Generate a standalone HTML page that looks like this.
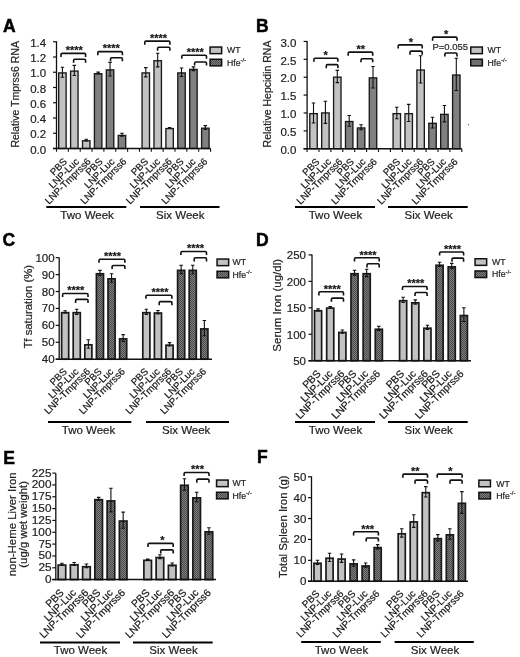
<!DOCTYPE html>
<html><head><meta charset="utf-8"><title>Figure</title>
<style>html,body{margin:0;padding:0;background:#fff;}svg{display:block;filter:grayscale(1);}text{font-family:"Liberation Sans", sans-serif;stroke:#222;stroke-width:0.2px;}</style>
</head><body>
<svg width="520" height="657" viewBox="0 0 520 657">
<defs><pattern id="chk" width="2" height="2" patternUnits="userSpaceOnUse"><rect width="2" height="2" fill="#7e7e7e"/><rect width="1" height="1" fill="#4a4a4a"/><rect x="1" y="1" width="1" height="1" fill="#4a4a4a"/></pattern></defs>
<rect width="520" height="657" fill="#fff"/>
<text x="3" y="32" font-size="17.5" font-weight="bold" fill="#000" style="stroke:#000;stroke-width:0.5px">A</text>
<rect x="58.69" y="72.92" width="7.45" height="75.58" fill="#c2c2c2" stroke="#1a1a1a" stroke-width="1.35"/>
<path d="M62.41 67.29V77.21M60.66 67.29H64.16M60.66 77.21H64.16" stroke="#111" stroke-width="1.1" fill="none"/>
<rect x="70.6" y="71.09" width="7.45" height="77.41" fill="#c2c2c2" stroke="#1a1a1a" stroke-width="1.35"/>
<path d="M74.33 65.39V75.45M72.58 65.39H76.08M72.58 75.45H76.08" stroke="#111" stroke-width="1.1" fill="none"/>
<rect x="82.51" y="140.79" width="7.45" height="7.71" fill="#c2c2c2" stroke="#1a1a1a" stroke-width="1.35"/>
<path d="M86.23 139.2V141.03M84.48 139.2H87.98M84.48 141.03H87.98" stroke="#111" stroke-width="1.1" fill="none"/>
<rect x="94.42" y="73.69" width="7.45" height="74.81" fill="#808080" stroke="#1a1a1a" stroke-width="1.35"/>
<path d="M98.15 72.1V73.93M96.4 72.1H99.9M96.4 73.93H99.9" stroke="#111" stroke-width="1.1" fill="none"/>
<rect x="106.33" y="69.88" width="7.45" height="78.62" fill="#808080" stroke="#1a1a1a" stroke-width="1.35"/>
<path d="M110.06 62.34V76.06M108.31 62.34H111.81M108.31 76.06H111.81" stroke="#111" stroke-width="1.1" fill="none"/>
<rect x="118.24" y="135.45" width="7.45" height="13.05" fill="#808080" stroke="#1a1a1a" stroke-width="1.35"/>
<path d="M121.97 133.25V136.3M120.22 133.25H123.72M120.22 136.3H123.72" stroke="#111" stroke-width="1.1" fill="none"/>
<rect x="142.06" y="72.92" width="7.45" height="75.58" fill="#c2c2c2" stroke="#1a1a1a" stroke-width="1.35"/>
<path d="M145.78 67.67V76.83M144.03 67.67H147.53M144.03 76.83H147.53" stroke="#111" stroke-width="1.1" fill="none"/>
<rect x="153.97" y="60.73" width="7.45" height="87.77" fill="#c2c2c2" stroke="#1a1a1a" stroke-width="1.35"/>
<path d="M157.69 53.19V66.91M155.94 53.19H159.44M155.94 66.91H159.44" stroke="#111" stroke-width="1.1" fill="none"/>
<rect x="165.88" y="128.59" width="7.45" height="19.91" fill="#c2c2c2" stroke="#1a1a1a" stroke-width="1.35"/>
<path d="M169.6 127.45V128.37M167.85 127.45H171.35M167.85 128.37H171.35" stroke="#111" stroke-width="1.1" fill="none"/>
<rect x="177.79" y="72.92" width="7.45" height="75.58" fill="#808080" stroke="#1a1a1a" stroke-width="1.35"/>
<path d="M181.52 68.06V76.44M179.77 68.06H183.27M179.77 76.44H183.27" stroke="#111" stroke-width="1.1" fill="none"/>
<rect x="189.7" y="69.42" width="7.45" height="79.08" fill="#808080" stroke="#1a1a1a" stroke-width="1.35"/>
<path d="M193.43 66.84V70.65M191.68 66.84H195.18M191.68 70.65H195.18" stroke="#111" stroke-width="1.1" fill="none"/>
<rect x="201.61" y="128.21" width="7.45" height="20.29" fill="#808080" stroke="#1a1a1a" stroke-width="1.35"/>
<path d="M205.34 125.62V129.44M203.59 125.62H207.09M203.59 129.44H207.09" stroke="#111" stroke-width="1.1" fill="none"/>
<path d="M56.5 41.15V149.1" stroke="#111" stroke-width="1.3" fill="none"/>
<path d="M53 148.5H210.6" stroke="#111" stroke-width="1.5" fill="none"/>
<path d="M53 148.5H56.5" stroke="#111" stroke-width="1.2"/>
<text x="46.2" y="153.55" font-size="11.5" text-anchor="end" fill="#222">0.0</text>
<path d="M53 133.25H56.5" stroke="#111" stroke-width="1.2"/>
<text x="46.2" y="138.3" font-size="11.5" text-anchor="end" fill="#222">0.2</text>
<path d="M53 118H56.5" stroke="#111" stroke-width="1.2"/>
<text x="46.2" y="123.05" font-size="11.5" text-anchor="end" fill="#222">0.4</text>
<path d="M53 102.75H56.5" stroke="#111" stroke-width="1.2"/>
<text x="46.2" y="107.8" font-size="11.5" text-anchor="end" fill="#222">0.6</text>
<path d="M53 87.5H56.5" stroke="#111" stroke-width="1.2"/>
<text x="46.2" y="92.55" font-size="11.5" text-anchor="end" fill="#222">0.8</text>
<path d="M53 72.25H56.5" stroke="#111" stroke-width="1.2"/>
<text x="46.2" y="77.3" font-size="11.5" text-anchor="end" fill="#222">1.0</text>
<path d="M53 57H56.5" stroke="#111" stroke-width="1.2"/>
<text x="46.2" y="62.05" font-size="11.5" text-anchor="end" fill="#222">1.2</text>
<path d="M53 41.75H56.5" stroke="#111" stroke-width="1.2"/>
<text x="46.2" y="46.8" font-size="11.5" text-anchor="end" fill="#222">1.4</text>
<path d="M56.5 148.5V151.7" stroke="#111" stroke-width="1.1"/>
<path d="M68.35 148.5V151.7" stroke="#111" stroke-width="1.1"/>
<path d="M80.2 148.5V151.7" stroke="#111" stroke-width="1.1"/>
<path d="M92.05 148.5V151.7" stroke="#111" stroke-width="1.1"/>
<path d="M103.9 148.5V151.7" stroke="#111" stroke-width="1.1"/>
<path d="M115.75 148.5V151.7" stroke="#111" stroke-width="1.1"/>
<path d="M127.6 148.5V151.7" stroke="#111" stroke-width="1.1"/>
<path d="M139.45 148.5V151.7" stroke="#111" stroke-width="1.1"/>
<path d="M151.3 148.5V151.7" stroke="#111" stroke-width="1.1"/>
<path d="M163.15 148.5V151.7" stroke="#111" stroke-width="1.1"/>
<path d="M175 148.5V151.7" stroke="#111" stroke-width="1.1"/>
<path d="M186.85 148.5V151.7" stroke="#111" stroke-width="1.1"/>
<path d="M198.7 148.5V151.7" stroke="#111" stroke-width="1.1"/>
<path d="M210.55 148.5V151.7" stroke="#111" stroke-width="1.1"/>
<text transform="translate(19.4 94.3) rotate(-90)" font-size="10.5" text-anchor="middle" fill="#222">Relative Tmprss6 RNA</text>
<path d="M61 57V54.6Q61 53.4 62.2 53.4H84.4Q85.6 53.4 85.6 54.6V57" stroke="#111" stroke-width="1.6" fill="none"/>
<path d="M73.6 62.8V60.4Q73.6 59.2 74.8 59.2H84.4Q85.6 59.2 85.6 60.4V62.8" stroke="#111" stroke-width="1.6" fill="none"/>
<text x="74.25" y="54.25" font-size="11" font-weight="bold" text-anchor="middle" fill="#111">****</text>
<path d="M97.8 55.2V52.8Q97.8 51.6 99 51.6H121.2Q122.4 51.6 122.4 52.8V55.2" stroke="#111" stroke-width="1.6" fill="none"/>
<path d="M110.5 61.3V58.9Q110.5 57.7 111.7 57.7H121.2Q122.4 57.7 122.4 58.9V61.3" stroke="#111" stroke-width="1.6" fill="none"/>
<text x="111.25" y="52.45" font-size="11" font-weight="bold" text-anchor="middle" fill="#111">****</text>
<path d="M144.8 44.7V42.3Q144.8 41.1 146 41.1H168.7Q169.9 41.1 169.9 42.3V44.7" stroke="#111" stroke-width="1.6" fill="none"/>
<path d="M157.6 50.8V48.4Q157.6 47.2 158.8 47.2H168.7Q169.9 47.2 169.9 48.4V50.8" stroke="#111" stroke-width="1.6" fill="none"/>
<text x="158.5" y="41.95" font-size="11" font-weight="bold" text-anchor="middle" fill="#111">****</text>
<path d="M181.8 58.8V56.4Q181.8 55.2 183 55.2H205.3Q206.5 55.2 206.5 56.4V58.8" stroke="#111" stroke-width="1.6" fill="none"/>
<path d="M194.6 65.6V63.2Q194.6 62 195.8 62H205.3Q206.5 62 206.5 63.2V65.6" stroke="#111" stroke-width="1.6" fill="none"/>
<text x="195.2" y="56.05" font-size="11" font-weight="bold" text-anchor="middle" fill="#111">****</text>
<text transform="translate(67.72 162.2) rotate(-45)" font-size="9.75" text-anchor="end" fill="#111">PBS</text>
<text transform="translate(79.58 162.2) rotate(-45)" font-size="9.75" text-anchor="end" fill="#111">LNP-Luc</text>
<text transform="translate(91.42 162.2) rotate(-45)" font-size="9.75" text-anchor="end" fill="#111">LNP-Tmprss6</text>
<text transform="translate(103.27 162.2) rotate(-45)" font-size="9.75" text-anchor="end" fill="#111">PBS</text>
<text transform="translate(115.12 162.2) rotate(-45)" font-size="9.75" text-anchor="end" fill="#111">LNP-Luc</text>
<text transform="translate(126.97 162.2) rotate(-45)" font-size="9.75" text-anchor="end" fill="#111">LNP-Tmprss6</text>
<text transform="translate(148.78 162.2) rotate(-45)" font-size="9.75" text-anchor="end" fill="#111">PBS</text>
<text transform="translate(160.62 162.2) rotate(-45)" font-size="9.75" text-anchor="end" fill="#111">LNP-Luc</text>
<text transform="translate(172.47 162.2) rotate(-45)" font-size="9.75" text-anchor="end" fill="#111">LNP-Tmprss6</text>
<text transform="translate(184.33 162.2) rotate(-45)" font-size="9.75" text-anchor="end" fill="#111">PBS</text>
<text transform="translate(196.18 162.2) rotate(-45)" font-size="9.75" text-anchor="end" fill="#111">LNP-Luc</text>
<text transform="translate(208.03 162.2) rotate(-45)" font-size="9.75" text-anchor="end" fill="#111">LNP-Tmprss6</text>
<path d="M46.3 207H126.3" stroke="#000" stroke-width="2"/>
<text x="87.1" y="218.8" font-size="11.5" text-anchor="middle" fill="#222">Two Week</text>
<path d="M140 207H219.5" stroke="#000" stroke-width="2"/>
<text x="180.25" y="218.8" font-size="11.5" text-anchor="middle" fill="#222">Six Week</text>
<rect x="210.05" y="47.05" width="11.6" height="6.6" fill="#c2c2c2" stroke="#111" stroke-width="1.5"/>
<rect x="210.05" y="59.25" width="11.6" height="6.6" fill="url(#chk)" stroke="#111" stroke-width="1.5"/>
<text x="227" y="53.4" font-size="8.7" fill="#222">WT</text>
<text x="227" y="65.6" font-size="8.7" fill="#222">Hfe<tspan font-size="6" dy="-3.8">-/-</tspan></text>
<text x="256.1" y="32.2" font-size="17.5" font-weight="bold" fill="#000" style="stroke:#000;stroke-width:0.5px">B</text>
<rect x="309.78" y="113.65" width="7.45" height="35.1" fill="#c2c2c2" stroke="#1a1a1a" stroke-width="1.35"/>
<path d="M313.5 102.96V123M311.75 102.96H315.25M311.75 123H315.25" stroke="#111" stroke-width="1.1" fill="none"/>
<rect x="321.68" y="112.94" width="7.45" height="35.81" fill="#c2c2c2" stroke="#1a1a1a" stroke-width="1.35"/>
<path d="M325.4 101.18V123.35M323.65 101.18H327.15M323.65 123.35H327.15" stroke="#111" stroke-width="1.1" fill="none"/>
<rect x="333.58" y="77.17" width="7.45" height="71.58" fill="#c2c2c2" stroke="#1a1a1a" stroke-width="1.35"/>
<path d="M337.3 70.41V82.58M335.55 70.41H339.05M335.55 82.58H339.05" stroke="#111" stroke-width="1.1" fill="none"/>
<rect x="345.48" y="121.52" width="7.45" height="27.23" fill="#808080" stroke="#1a1a1a" stroke-width="1.35"/>
<path d="M349.2 115.48V126.21M347.45 115.48H350.95M347.45 126.21H350.95" stroke="#111" stroke-width="1.1" fill="none"/>
<rect x="357.38" y="127.96" width="7.45" height="20.79" fill="#808080" stroke="#1a1a1a" stroke-width="1.35"/>
<path d="M361.1 124.78V129.79M359.35 124.78H362.85M359.35 129.79H362.85" stroke="#111" stroke-width="1.1" fill="none"/>
<rect x="369.28" y="77.88" width="7.45" height="70.87" fill="#808080" stroke="#1a1a1a" stroke-width="1.35"/>
<path d="M373 66.48V87.94M371.25 66.48H374.75M371.25 87.94H374.75" stroke="#111" stroke-width="1.1" fill="none"/>
<rect x="393.08" y="113.65" width="7.45" height="35.1" fill="#c2c2c2" stroke="#1a1a1a" stroke-width="1.35"/>
<path d="M396.8 107.26V118.7M395.05 107.26H398.55M395.05 118.7H398.55" stroke="#111" stroke-width="1.1" fill="none"/>
<rect x="404.98" y="113.65" width="7.45" height="35.1" fill="#c2c2c2" stroke="#1a1a1a" stroke-width="1.35"/>
<path d="M408.7 104.4V121.56M406.95 104.4H410.45M406.95 121.56H410.45" stroke="#111" stroke-width="1.1" fill="none"/>
<rect x="416.88" y="70.02" width="7.45" height="78.73" fill="#c2c2c2" stroke="#1a1a1a" stroke-width="1.35"/>
<path d="M420.6 55.75V82.93M418.85 55.75H422.35M418.85 82.93H422.35" stroke="#111" stroke-width="1.1" fill="none"/>
<rect x="428.78" y="123.31" width="7.45" height="25.44" fill="#808080" stroke="#1a1a1a" stroke-width="1.35"/>
<path d="M432.5 117.27V128M430.75 117.27H434.25M430.75 128H434.25" stroke="#111" stroke-width="1.1" fill="none"/>
<rect x="440.68" y="114.37" width="7.45" height="34.38" fill="#808080" stroke="#1a1a1a" stroke-width="1.35"/>
<path d="M444.4 105.47V121.92M442.65 105.47H446.15M442.65 121.92H446.15" stroke="#111" stroke-width="1.1" fill="none"/>
<rect x="452.58" y="75.02" width="7.45" height="73.73" fill="#808080" stroke="#1a1a1a" stroke-width="1.35"/>
<path d="M456.3 58.25V90.44M454.55 58.25H458.05M454.55 90.44H458.05" stroke="#111" stroke-width="1.1" fill="none"/>
<path d="M307.1 40.9V149.35" stroke="#111" stroke-width="1.3" fill="none"/>
<path d="M303.6 148.75H461.8" stroke="#111" stroke-width="1.5" fill="none"/>
<path d="M303.6 148.75H307.1" stroke="#111" stroke-width="1.2"/>
<text x="296.4" y="153.95" font-size="11.5" text-anchor="end" fill="#222">0.0</text>
<path d="M303.6 130.87H307.1" stroke="#111" stroke-width="1.2"/>
<text x="296.4" y="136.06" font-size="11.5" text-anchor="end" fill="#222">0.5</text>
<path d="M303.6 112.98H307.1" stroke="#111" stroke-width="1.2"/>
<text x="296.4" y="118.18" font-size="11.5" text-anchor="end" fill="#222">1.0</text>
<path d="M303.6 95.09H307.1" stroke="#111" stroke-width="1.2"/>
<text x="296.4" y="100.3" font-size="11.5" text-anchor="end" fill="#222">1.5</text>
<path d="M303.6 77.21H307.1" stroke="#111" stroke-width="1.2"/>
<text x="296.4" y="82.41" font-size="11.5" text-anchor="end" fill="#222">2.0</text>
<path d="M303.6 59.32H307.1" stroke="#111" stroke-width="1.2"/>
<text x="296.4" y="64.52" font-size="11.5" text-anchor="end" fill="#222">2.5</text>
<path d="M303.6 41.44H307.1" stroke="#111" stroke-width="1.2"/>
<text x="296.4" y="46.64" font-size="11.5" text-anchor="end" fill="#222">3.0</text>
<path d="M307.1 148.75V151.95" stroke="#111" stroke-width="1.1"/>
<path d="M319 148.75V151.95" stroke="#111" stroke-width="1.1"/>
<path d="M330.9 148.75V151.95" stroke="#111" stroke-width="1.1"/>
<path d="M342.8 148.75V151.95" stroke="#111" stroke-width="1.1"/>
<path d="M354.7 148.75V151.95" stroke="#111" stroke-width="1.1"/>
<path d="M366.6 148.75V151.95" stroke="#111" stroke-width="1.1"/>
<path d="M378.5 148.75V151.95" stroke="#111" stroke-width="1.1"/>
<path d="M390.4 148.75V151.95" stroke="#111" stroke-width="1.1"/>
<path d="M402.3 148.75V151.95" stroke="#111" stroke-width="1.1"/>
<path d="M414.2 148.75V151.95" stroke="#111" stroke-width="1.1"/>
<path d="M426.1 148.75V151.95" stroke="#111" stroke-width="1.1"/>
<path d="M438 148.75V151.95" stroke="#111" stroke-width="1.1"/>
<path d="M449.9 148.75V151.95" stroke="#111" stroke-width="1.1"/>
<path d="M461.8 148.75V151.95" stroke="#111" stroke-width="1.1"/>
<text transform="translate(271.3 94) rotate(-90)" font-size="10.5" text-anchor="middle" fill="#222">Relative Hepcidin RNA</text>
<path d="M313.9 61.8V59.4Q313.9 58.2 315.1 58.2H336.7Q337.9 58.2 337.9 59.4V61.8" stroke="#111" stroke-width="1.6" fill="none"/>
<path d="M326.3 68.2V65.8Q326.3 64.6 327.5 64.6H336.7Q337.9 64.6 337.9 65.8V68.2" stroke="#111" stroke-width="1.6" fill="none"/>
<text x="325.7" y="59.05" font-size="11" font-weight="bold" text-anchor="middle" fill="#111">*</text>
<path d="M348.2 55.7V53.3Q348.2 52.1 349.4 52.1H371.5Q372.7 52.1 372.7 53.3V55.7" stroke="#111" stroke-width="1.6" fill="none"/>
<path d="M361 62.3V59.9Q361 58.7 362.2 58.7H371.5Q372.7 58.7 372.7 59.9V62.3" stroke="#111" stroke-width="1.6" fill="none"/>
<text x="360.8" y="52.95" font-size="11" font-weight="bold" text-anchor="middle" fill="#111">**</text>
<path d="M398.2 48.5V46.1Q398.2 44.9 399.4 44.9H421Q422.2 44.9 422.2 46.1V48.5" stroke="#111" stroke-width="1.6" fill="none"/>
<path d="M410 54.7V52.3Q410 51.1 411.2 51.1H421Q422.2 51.1 422.2 52.3V54.7" stroke="#111" stroke-width="1.6" fill="none"/>
<text x="411" y="45.75" font-size="11" font-weight="bold" text-anchor="middle" fill="#111">*</text>
<path d="M432.6 40.7V38.3Q432.6 37.1 433.8 37.1H455.8Q457 37.1 457 38.3V40.7" stroke="#111" stroke-width="1.6" fill="none"/>
<path d="M444.9 56.6V54.2Q444.9 53 446.1 53H455.8Q457 53 457 54.2V56.6" stroke="#111" stroke-width="1.6" fill="none"/>
<text x="446.2" y="37.95" font-size="11" font-weight="bold" text-anchor="middle" fill="#111">*</text>
<text x="432.4" y="50.4" font-size="9.5" fill="#222">P=0.055</text>
<text transform="translate(320.1 162.35) rotate(-45)" font-size="9.75" text-anchor="end" fill="#111">PBS</text>
<text transform="translate(331.62 162.35) rotate(-45)" font-size="9.75" text-anchor="end" fill="#111">LNP-Luc</text>
<text transform="translate(343.14 162.35) rotate(-45)" font-size="9.75" text-anchor="end" fill="#111">LNP-Tmprss6</text>
<text transform="translate(354.66 162.35) rotate(-45)" font-size="9.75" text-anchor="end" fill="#111">PBS</text>
<text transform="translate(366.18 162.35) rotate(-45)" font-size="9.75" text-anchor="end" fill="#111">LNP-Luc</text>
<text transform="translate(377.7 162.35) rotate(-45)" font-size="9.75" text-anchor="end" fill="#111">LNP-Tmprss6</text>
<text transform="translate(400.74 162.35) rotate(-45)" font-size="9.75" text-anchor="end" fill="#111">PBS</text>
<text transform="translate(412.26 162.35) rotate(-45)" font-size="9.75" text-anchor="end" fill="#111">LNP-Luc</text>
<text transform="translate(423.78 162.35) rotate(-45)" font-size="9.75" text-anchor="end" fill="#111">LNP-Tmprss6</text>
<text transform="translate(435.3 162.35) rotate(-45)" font-size="9.75" text-anchor="end" fill="#111">PBS</text>
<text transform="translate(446.82 162.35) rotate(-45)" font-size="9.75" text-anchor="end" fill="#111">LNP-Luc</text>
<text transform="translate(458.34 162.35) rotate(-45)" font-size="9.75" text-anchor="end" fill="#111">LNP-Tmprss6</text>
<path d="M295 207.1H375" stroke="#000" stroke-width="2"/>
<text x="335.45" y="219" font-size="11.5" text-anchor="middle" fill="#222">Two Week</text>
<path d="M388 207.1H467.7" stroke="#000" stroke-width="2"/>
<text x="428.65" y="219" font-size="11.5" text-anchor="middle" fill="#222">Six Week</text>
<rect x="470.75" y="47.05" width="11.6" height="6.6" fill="#c2c2c2" stroke="#111" stroke-width="1.5"/>
<rect x="470.75" y="59.25" width="11.6" height="6.6" fill="#6e6e6e" stroke="#111" stroke-width="1.5"/>
<text x="487.5" y="53.4" font-size="8.7" fill="#222">WT</text>
<text x="487.5" y="65.6" font-size="8.7" fill="#222">Hfe<tspan font-size="6" dy="-3.8">-/-</tspan></text>
<text x="2.4" y="246.3" font-size="17.5" font-weight="bold" fill="#000" style="stroke:#000;stroke-width:0.5px">C</text>
<rect x="61.6" y="312.67" width="7.1" height="46.53" fill="#c2c2c2" stroke="#1a1a1a" stroke-width="1.7"/>
<path d="M65.15 310.81V312.84M63.4 310.81H66.9M63.4 312.84H66.9" stroke="#111" stroke-width="1.1" fill="none"/>
<rect x="73.2" y="312.67" width="7.1" height="46.53" fill="#c2c2c2" stroke="#1a1a1a" stroke-width="1.7"/>
<path d="M76.75 309.29V314.36M75 309.29H78.5M75 314.36H78.5" stroke="#111" stroke-width="1.1" fill="none"/>
<rect x="84.8" y="344.82" width="7.1" height="14.38" fill="#c2c2c2" stroke="#1a1a1a" stroke-width="1.7"/>
<path d="M88.35 339.74V348.2M86.6 339.74H90.1M86.6 348.2H90.1" stroke="#111" stroke-width="1.1" fill="none"/>
<rect x="96.4" y="273.76" width="7.1" height="85.44" fill="url(#chk)" stroke="#1a1a1a" stroke-width="1.7"/>
<path d="M99.95 270.37V275.45M98.2 270.37H101.7M98.2 275.45H101.7" stroke="#111" stroke-width="1.1" fill="none"/>
<rect x="108" y="278.83" width="7.1" height="80.37" fill="url(#chk)" stroke="#1a1a1a" stroke-width="1.7"/>
<path d="M111.55 273.75V282.21M109.8 273.75H113.3M109.8 282.21H113.3" stroke="#111" stroke-width="1.1" fill="none"/>
<rect x="119.6" y="338.9" width="7.1" height="20.3" fill="url(#chk)" stroke="#1a1a1a" stroke-width="1.7"/>
<path d="M123.15 334.67V341.43M121.4 334.67H124.9M121.4 341.43H124.9" stroke="#111" stroke-width="1.1" fill="none"/>
<rect x="142.8" y="312.67" width="7.1" height="46.53" fill="#c2c2c2" stroke="#1a1a1a" stroke-width="1.7"/>
<path d="M146.35 309.29V314.36M144.6 309.29H148.1M144.6 314.36H148.1" stroke="#111" stroke-width="1.1" fill="none"/>
<rect x="154.4" y="313.01" width="7.1" height="46.19" fill="#c2c2c2" stroke="#1a1a1a" stroke-width="1.7"/>
<path d="M157.95 310.47V313.85M156.2 310.47H159.7M156.2 313.85H159.7" stroke="#111" stroke-width="1.1" fill="none"/>
<rect x="166" y="345.16" width="7.1" height="14.04" fill="#c2c2c2" stroke="#1a1a1a" stroke-width="1.7"/>
<path d="M169.55 342.62V346M167.8 342.62H171.3M167.8 346H171.3" stroke="#111" stroke-width="1.1" fill="none"/>
<rect x="177.6" y="270.37" width="7.1" height="88.83" fill="url(#chk)" stroke="#1a1a1a" stroke-width="1.7"/>
<path d="M181.15 265.29V273.75M179.4 265.29H182.9M179.4 273.75H182.9" stroke="#111" stroke-width="1.1" fill="none"/>
<rect x="189.2" y="270.37" width="7.1" height="88.83" fill="url(#chk)" stroke="#1a1a1a" stroke-width="1.7"/>
<path d="M192.75 265.29V273.75M191 265.29H194.5M191 273.75H194.5" stroke="#111" stroke-width="1.1" fill="none"/>
<rect x="200.8" y="328.92" width="7.1" height="30.28" fill="url(#chk)" stroke="#1a1a1a" stroke-width="1.7"/>
<path d="M204.35 320.45V335.68M202.6 320.45H206.1M202.6 335.68H206.1" stroke="#111" stroke-width="1.1" fill="none"/>
<path d="M59.2 257.4V359.8" stroke="#111" stroke-width="1.3" fill="none"/>
<path d="M55.7 359.2H212" stroke="#111" stroke-width="1.5" fill="none"/>
<path d="M55.7 359.2H59.2" stroke="#111" stroke-width="1.2"/>
<text x="54.6" y="363.2" font-size="11.5" text-anchor="end" fill="#222">40</text>
<path d="M55.7 342.28H59.2" stroke="#111" stroke-width="1.2"/>
<text x="54.6" y="346.28" font-size="11.5" text-anchor="end" fill="#222">50</text>
<path d="M55.7 325.36H59.2" stroke="#111" stroke-width="1.2"/>
<text x="54.6" y="329.36" font-size="11.5" text-anchor="end" fill="#222">60</text>
<path d="M55.7 308.44H59.2" stroke="#111" stroke-width="1.2"/>
<text x="54.6" y="312.44" font-size="11.5" text-anchor="end" fill="#222">70</text>
<path d="M55.7 291.52H59.2" stroke="#111" stroke-width="1.2"/>
<text x="54.6" y="295.52" font-size="11.5" text-anchor="end" fill="#222">80</text>
<path d="M55.7 274.6H59.2" stroke="#111" stroke-width="1.2"/>
<text x="54.6" y="278.6" font-size="11.5" text-anchor="end" fill="#222">90</text>
<path d="M55.7 257.68H59.2" stroke="#111" stroke-width="1.2"/>
<text x="54.6" y="261.68" font-size="11.5" text-anchor="end" fill="#222">100</text>
<text transform="translate(32.3 306.8) rotate(-90)" font-size="11.3" text-anchor="middle" fill="#222">Tf saturation (%)</text>
<path d="M62.6 297.1V294.7Q62.6 293.5 63.8 293.5H86.8Q88 293.5 88 294.7V297.1" stroke="#111" stroke-width="1.6" fill="none"/>
<path d="M75.6 303V300.6Q75.6 299.4 76.8 299.4H86.8Q88 299.4 88 300.6V303" stroke="#111" stroke-width="1.6" fill="none"/>
<text x="75.75" y="294.35" font-size="11" font-weight="bold" text-anchor="middle" fill="#111">****</text>
<path d="M99 262.8V260.4Q99 259.2 100.2 259.2H123.7Q124.9 259.2 124.9 260.4V262.8" stroke="#111" stroke-width="1.6" fill="none"/>
<path d="M112.1 269.1V266.7Q112.1 265.5 113.3 265.5H123.7Q124.9 265.5 124.9 266.7V269.1" stroke="#111" stroke-width="1.6" fill="none"/>
<text x="112.6" y="260.05" font-size="11" font-weight="bold" text-anchor="middle" fill="#111">****</text>
<path d="M145.9 298.8V296.4Q145.9 295.2 147.1 295.2H170.7Q171.9 295.2 171.9 296.4V298.8" stroke="#111" stroke-width="1.6" fill="none"/>
<path d="M159.2 305.2V302.8Q159.2 301.6 160.4 301.6H170.7Q171.9 301.6 171.9 302.8V305.2" stroke="#111" stroke-width="1.6" fill="none"/>
<text x="160.1" y="296.05" font-size="11" font-weight="bold" text-anchor="middle" fill="#111">****</text>
<path d="M180.9 255.1V252.7Q180.9 251.5 182.1 251.5H205.3Q206.5 251.5 206.5 252.7V255.1" stroke="#111" stroke-width="1.6" fill="none"/>
<path d="M194.2 261.4V259Q194.2 257.8 195.4 257.8H205.3Q206.5 257.8 206.5 259V261.4" stroke="#111" stroke-width="1.6" fill="none"/>
<text x="195.5" y="252.35" font-size="11" font-weight="bold" text-anchor="middle" fill="#111">****</text>
<text transform="translate(67.55 372.2) rotate(-45)" font-size="9.75" text-anchor="end" fill="#111">PBS</text>
<text transform="translate(79.15 372.2) rotate(-45)" font-size="9.75" text-anchor="end" fill="#111">LNP-Luc</text>
<text transform="translate(90.75 372.2) rotate(-45)" font-size="9.75" text-anchor="end" fill="#111">LNP-Tmprss6</text>
<text transform="translate(102.35 372.2) rotate(-45)" font-size="9.75" text-anchor="end" fill="#111">PBS</text>
<text transform="translate(113.95 372.2) rotate(-45)" font-size="9.75" text-anchor="end" fill="#111">LNP-Luc</text>
<text transform="translate(125.55 372.2) rotate(-45)" font-size="9.75" text-anchor="end" fill="#111">LNP-Tmprss6</text>
<text transform="translate(148.75 372.2) rotate(-45)" font-size="9.75" text-anchor="end" fill="#111">PBS</text>
<text transform="translate(160.35 372.2) rotate(-45)" font-size="9.75" text-anchor="end" fill="#111">LNP-Luc</text>
<text transform="translate(171.95 372.2) rotate(-45)" font-size="9.75" text-anchor="end" fill="#111">LNP-Tmprss6</text>
<text transform="translate(183.55 372.2) rotate(-45)" font-size="9.75" text-anchor="end" fill="#111">PBS</text>
<text transform="translate(195.15 372.2) rotate(-45)" font-size="9.75" text-anchor="end" fill="#111">LNP-Luc</text>
<text transform="translate(206.75 372.2) rotate(-45)" font-size="9.75" text-anchor="end" fill="#111">LNP-Tmprss6</text>
<path d="M48 422H131.3" stroke="#000" stroke-width="2"/>
<text x="88.5" y="434" font-size="11.5" text-anchor="middle" fill="#222">Two Week</text>
<path d="M146 422H229" stroke="#000" stroke-width="2"/>
<text x="186.15" y="434" font-size="11.5" text-anchor="middle" fill="#222">Six Week</text>
<rect x="217.05" y="259.05" width="11.6" height="6.6" fill="#c2c2c2" stroke="#111" stroke-width="1.5"/>
<rect x="217.05" y="271.25" width="11.6" height="6.6" fill="url(#chk)" stroke="#111" stroke-width="1.5"/>
<text x="232.5" y="265.4" font-size="8.7" fill="#222">WT</text>
<text x="232.5" y="277.6" font-size="8.7" fill="#222">Hfe<tspan font-size="6" dy="-3.8">-/-</tspan></text>
<text x="256" y="246" font-size="17.5" font-weight="bold" fill="#000" style="stroke:#000;stroke-width:0.5px">D</text>
<rect x="314.53" y="310.77" width="7.1" height="49.93" fill="#c2c2c2" stroke="#1a1a1a" stroke-width="1.7"/>
<path d="M318.07 308.86V310.97M316.32 308.86H319.82M316.32 310.97H319.82" stroke="#111" stroke-width="1.1" fill="none"/>
<rect x="326.68" y="308.12" width="7.1" height="52.58" fill="#c2c2c2" stroke="#1a1a1a" stroke-width="1.7"/>
<path d="M330.23 306.48V308.06M328.48 306.48H331.98M328.48 308.06H331.98" stroke="#111" stroke-width="1.1" fill="none"/>
<rect x="338.83" y="332.45" width="7.1" height="28.25" fill="#c2c2c2" stroke="#1a1a1a" stroke-width="1.7"/>
<path d="M342.38 330.02V333.19M340.62 330.02H344.12M340.62 333.19H344.12" stroke="#111" stroke-width="1.1" fill="none"/>
<rect x="350.98" y="273.74" width="7.1" height="86.96" fill="url(#chk)" stroke="#1a1a1a" stroke-width="1.7"/>
<path d="M354.52 270.24V275.53M352.77 270.24H356.27M352.77 275.53H356.27" stroke="#111" stroke-width="1.1" fill="none"/>
<rect x="363.13" y="273.74" width="7.1" height="86.96" fill="url(#chk)" stroke="#1a1a1a" stroke-width="1.7"/>
<path d="M366.68 269.18V276.59M364.93 269.18H368.43M364.93 276.59H368.43" stroke="#111" stroke-width="1.1" fill="none"/>
<rect x="375.28" y="329.28" width="7.1" height="31.42" fill="url(#chk)" stroke="#1a1a1a" stroke-width="1.7"/>
<path d="M378.82 326.31V330.55M377.07 326.31H380.57M377.07 330.55H380.57" stroke="#111" stroke-width="1.1" fill="none"/>
<rect x="399.58" y="300.72" width="7.1" height="59.98" fill="#c2c2c2" stroke="#1a1a1a" stroke-width="1.7"/>
<path d="M403.12 297.22V302.51M401.38 297.22H404.88M401.38 302.51H404.88" stroke="#111" stroke-width="1.1" fill="none"/>
<rect x="411.73" y="302.83" width="7.1" height="57.87" fill="#c2c2c2" stroke="#1a1a1a" stroke-width="1.7"/>
<path d="M415.27 299.87V304.1M413.52 299.87H417.02M413.52 304.1H417.02" stroke="#111" stroke-width="1.1" fill="none"/>
<rect x="423.88" y="328.22" width="7.1" height="32.48" fill="#c2c2c2" stroke="#1a1a1a" stroke-width="1.7"/>
<path d="M427.43 325.26V329.49M425.68 325.26H429.18M425.68 329.49H429.18" stroke="#111" stroke-width="1.1" fill="none"/>
<rect x="436.03" y="265.27" width="7.1" height="95.43" fill="url(#chk)" stroke="#1a1a1a" stroke-width="1.7"/>
<path d="M439.57 262.31V266.54M437.82 262.31H441.32M437.82 266.54H441.32" stroke="#111" stroke-width="1.1" fill="none"/>
<rect x="448.18" y="266.86" width="7.1" height="93.84" fill="url(#chk)" stroke="#1a1a1a" stroke-width="1.7"/>
<path d="M451.73 263.36V268.65M449.98 263.36H453.48M449.98 268.65H453.48" stroke="#111" stroke-width="1.1" fill="none"/>
<rect x="460.33" y="315.53" width="7.1" height="45.17" fill="url(#chk)" stroke="#1a1a1a" stroke-width="1.7"/>
<path d="M463.88 307.8V321.55M462.12 307.8H465.62M462.12 321.55H465.62" stroke="#111" stroke-width="1.1" fill="none"/>
<path d="M312 254.4V361.3" stroke="#111" stroke-width="1.3" fill="none"/>
<path d="M308.5 360.7H471" stroke="#111" stroke-width="1.5" fill="none"/>
<path d="M308.5 360.7H312" stroke="#111" stroke-width="1.2"/>
<text x="306" y="364.95" font-size="11.5" text-anchor="end" fill="#222">50</text>
<path d="M308.5 334.25H312" stroke="#111" stroke-width="1.2"/>
<text x="306" y="338.5" font-size="11.5" text-anchor="end" fill="#222">100</text>
<path d="M308.5 307.8H312" stroke="#111" stroke-width="1.2"/>
<text x="306" y="312.05" font-size="11.5" text-anchor="end" fill="#222">150</text>
<path d="M308.5 281.35H312" stroke="#111" stroke-width="1.2"/>
<text x="306" y="285.6" font-size="11.5" text-anchor="end" fill="#222">200</text>
<path d="M308.5 254.9H312" stroke="#111" stroke-width="1.2"/>
<text x="306" y="259.15" font-size="11.5" text-anchor="end" fill="#222">250</text>
<text transform="translate(281.3 305.3) rotate(-90)" font-size="11.5" text-anchor="middle" fill="#222">Serum Iron (ug/dl)</text>
<path d="M318.9 295.4V293Q318.9 291.8 320.1 291.8H342.3Q343.5 291.8 343.5 293V295.4" stroke="#111" stroke-width="1.6" fill="none"/>
<path d="M331.4 301.7V299.3Q331.4 298.1 332.6 298.1H342.3Q343.5 298.1 343.5 299.3V301.7" stroke="#111" stroke-width="1.6" fill="none"/>
<text x="332.2" y="292.65" font-size="11" font-weight="bold" text-anchor="middle" fill="#111">****</text>
<path d="M354.5 261.4V259Q354.5 257.8 355.7 257.8H378Q379.2 257.8 379.2 259V261.4" stroke="#111" stroke-width="1.6" fill="none"/>
<path d="M367 267.4V265Q367 263.8 368.2 263.8H378Q379.2 263.8 379.2 265V267.4" stroke="#111" stroke-width="1.6" fill="none"/>
<text x="368" y="258.65" font-size="11" font-weight="bold" text-anchor="middle" fill="#111">****</text>
<path d="M402.5 290.1V287.7Q402.5 286.5 403.7 286.5H425.9Q427.1 286.5 427.1 287.7V290.1" stroke="#111" stroke-width="1.6" fill="none"/>
<path d="M415 296.1V293.7Q415 292.5 416.2 292.5H425.9Q427.1 292.5 427.1 293.7V296.1" stroke="#111" stroke-width="1.6" fill="none"/>
<text x="415.8" y="287.35" font-size="11" font-weight="bold" text-anchor="middle" fill="#111">****</text>
<path d="M439.6 255.6V253.2Q439.6 252 440.8 252H462.4Q463.6 252 463.6 253.2V255.6" stroke="#111" stroke-width="1.6" fill="none"/>
<path d="M452 261.7V259.3Q452 258.1 453.2 258.1H462.4Q463.6 258.1 463.6 259.3V261.7" stroke="#111" stroke-width="1.6" fill="none"/>
<text x="452.6" y="252.85" font-size="11" font-weight="bold" text-anchor="middle" fill="#111">****</text>
<text transform="translate(321.27 374.4) rotate(-45)" font-size="10.35" text-anchor="end" fill="#111">PBS</text>
<text transform="translate(333.2 374.4) rotate(-45)" font-size="10.35" text-anchor="end" fill="#111">LNP-Luc</text>
<text transform="translate(345.13 374.4) rotate(-45)" font-size="10.35" text-anchor="end" fill="#111">LNP-Tmprss6</text>
<text transform="translate(357.06 374.4) rotate(-45)" font-size="10.35" text-anchor="end" fill="#111">PBS</text>
<text transform="translate(369 374.4) rotate(-45)" font-size="10.35" text-anchor="end" fill="#111">LNP-Luc</text>
<text transform="translate(380.92 374.4) rotate(-45)" font-size="10.35" text-anchor="end" fill="#111">LNP-Tmprss6</text>
<text transform="translate(404.78 374.4) rotate(-45)" font-size="10.35" text-anchor="end" fill="#111">PBS</text>
<text transform="translate(416.71 374.4) rotate(-45)" font-size="10.35" text-anchor="end" fill="#111">LNP-Luc</text>
<text transform="translate(428.64 374.4) rotate(-45)" font-size="10.35" text-anchor="end" fill="#111">LNP-Tmprss6</text>
<text transform="translate(440.57 374.4) rotate(-45)" font-size="10.35" text-anchor="end" fill="#111">PBS</text>
<text transform="translate(452.5 374.4) rotate(-45)" font-size="10.35" text-anchor="end" fill="#111">LNP-Luc</text>
<text transform="translate(464.44 374.4) rotate(-45)" font-size="10.35" text-anchor="end" fill="#111">LNP-Tmprss6</text>
<path d="M295 421.9H375" stroke="#000" stroke-width="2"/>
<text x="335.5" y="433.8" font-size="11.5" text-anchor="middle" fill="#222">Two Week</text>
<path d="M388 421.9H467.7" stroke="#000" stroke-width="2"/>
<text x="428.65" y="433.8" font-size="11.5" text-anchor="middle" fill="#222">Six Week</text>
<rect x="475.05" y="258.75" width="11.6" height="6.6" fill="#c2c2c2" stroke="#111" stroke-width="1.5"/>
<rect x="475.05" y="270.95" width="11.6" height="6.6" fill="url(#chk)" stroke="#111" stroke-width="1.5"/>
<text x="492" y="265.1" font-size="8.7" fill="#222">WT</text>
<text x="492" y="277.3" font-size="8.7" fill="#222">Hfe<tspan font-size="6" dy="-3.8">-/-</tspan></text>
<text x="3.2" y="463.8" font-size="17.5" font-weight="bold" fill="#000" style="stroke:#000;stroke-width:0.5px">E</text>
<rect x="58.12" y="565.07" width="7.6" height="14.53" fill="#c2c2c2" stroke="#1a1a1a" stroke-width="1.7"/>
<path d="M61.92 563.27V565.16M60.17 563.27H63.67M60.17 565.16H63.67" stroke="#111" stroke-width="1.1" fill="none"/>
<rect x="70.37" y="564.83" width="7.6" height="14.77" fill="#c2c2c2" stroke="#1a1a1a" stroke-width="1.7"/>
<path d="M74.17 562.56V565.4M72.42 562.56H75.92M72.42 565.4H75.92" stroke="#111" stroke-width="1.1" fill="none"/>
<rect x="82.62" y="566.72" width="7.6" height="12.88" fill="#c2c2c2" stroke="#1a1a1a" stroke-width="1.7"/>
<path d="M86.42 563.98V567.77M84.67 563.98H88.17M84.67 567.77H88.17" stroke="#111" stroke-width="1.1" fill="none"/>
<rect x="94.87" y="499.66" width="7.6" height="79.94" fill="url(#chk)" stroke="#1a1a1a" stroke-width="1.7"/>
<path d="M98.67 497.39V500.23M96.92 497.39H100.42M96.92 500.23H100.42" stroke="#111" stroke-width="1.1" fill="none"/>
<rect x="107.12" y="500.94" width="7.6" height="78.66" fill="url(#chk)" stroke="#1a1a1a" stroke-width="1.7"/>
<path d="M110.92 488.25V511.92M109.17 488.25H112.67M109.17 511.92H112.67" stroke="#111" stroke-width="1.1" fill="none"/>
<rect x="119.37" y="521.05" width="7.6" height="58.55" fill="url(#chk)" stroke="#1a1a1a" stroke-width="1.7"/>
<path d="M123.17 512.15V528.25M121.42 512.15H124.92M121.42 528.25H124.92" stroke="#111" stroke-width="1.1" fill="none"/>
<rect x="143.88" y="560.33" width="7.6" height="19.27" fill="#c2c2c2" stroke="#1a1a1a" stroke-width="1.7"/>
<path d="M147.68 559.01V559.96M145.93 559.01H149.43M145.93 559.96H149.43" stroke="#111" stroke-width="1.1" fill="none"/>
<rect x="156.12" y="557.54" width="7.6" height="22.06" fill="#c2c2c2" stroke="#1a1a1a" stroke-width="1.7"/>
<path d="M159.93 554.8V558.59M158.18 554.8H161.68M158.18 558.59H161.68" stroke="#111" stroke-width="1.1" fill="none"/>
<rect x="168.38" y="565.3" width="7.6" height="14.3" fill="#c2c2c2" stroke="#1a1a1a" stroke-width="1.7"/>
<path d="M172.18 563.03V565.87M170.43 563.03H173.93M170.43 565.87H173.93" stroke="#111" stroke-width="1.1" fill="none"/>
<rect x="180.62" y="485.32" width="7.6" height="94.28" fill="url(#chk)" stroke="#1a1a1a" stroke-width="1.7"/>
<path d="M184.43 478.79V490.15M182.68 478.79H186.18M182.68 490.15H186.18" stroke="#111" stroke-width="1.1" fill="none"/>
<rect x="192.88" y="497.86" width="7.6" height="81.74" fill="url(#chk)" stroke="#1a1a1a" stroke-width="1.7"/>
<path d="M196.68 492.28V501.74M194.93 492.28H198.43M194.93 501.74H198.43" stroke="#111" stroke-width="1.1" fill="none"/>
<rect x="205.12" y="531.84" width="7.6" height="47.76" fill="url(#chk)" stroke="#1a1a1a" stroke-width="1.7"/>
<path d="M208.93 527.68V534.31M207.18 527.68H210.68M207.18 534.31H210.68" stroke="#111" stroke-width="1.1" fill="none"/>
<path d="M55.8 473.15V580.2" stroke="#111" stroke-width="1.3" fill="none"/>
<path d="M52.3 579.6H216" stroke="#111" stroke-width="1.5" fill="none"/>
<path d="M52.3 579.6H55.8" stroke="#111" stroke-width="1.2"/>
<text x="51.5" y="583.1" font-size="11.8" text-anchor="end" fill="#222">0</text>
<path d="M52.3 567.77H55.8" stroke="#111" stroke-width="1.2"/>
<text x="51.5" y="571.27" font-size="11.8" text-anchor="end" fill="#222">25</text>
<path d="M52.3 555.94H55.8" stroke="#111" stroke-width="1.2"/>
<text x="51.5" y="559.44" font-size="11.8" text-anchor="end" fill="#222">50</text>
<path d="M52.3 544.1H55.8" stroke="#111" stroke-width="1.2"/>
<text x="51.5" y="547.6" font-size="11.8" text-anchor="end" fill="#222">75</text>
<path d="M52.3 532.27H55.8" stroke="#111" stroke-width="1.2"/>
<text x="51.5" y="535.77" font-size="11.8" text-anchor="end" fill="#222">100</text>
<path d="M52.3 520.44H55.8" stroke="#111" stroke-width="1.2"/>
<text x="51.5" y="523.94" font-size="11.8" text-anchor="end" fill="#222">125</text>
<path d="M52.3 508.61H55.8" stroke="#111" stroke-width="1.2"/>
<text x="51.5" y="512.11" font-size="11.8" text-anchor="end" fill="#222">150</text>
<path d="M52.3 496.77H55.8" stroke="#111" stroke-width="1.2"/>
<text x="51.5" y="500.27" font-size="11.8" text-anchor="end" fill="#222">175</text>
<path d="M52.3 484.94H55.8" stroke="#111" stroke-width="1.2"/>
<text x="51.5" y="488.44" font-size="11.8" text-anchor="end" fill="#222">200</text>
<path d="M52.3 473.11H55.8" stroke="#111" stroke-width="1.2"/>
<text x="51.5" y="476.61" font-size="11.8" text-anchor="end" fill="#222">225</text>
<text transform="translate(16.4 524.3) rotate(-90)" font-size="11.4" text-anchor="middle" fill="#222">non-Heme Liver Iron</text>
<text transform="translate(27.3 524.3) rotate(-90)" font-size="11.4" text-anchor="middle" fill="#222">(ug/g wet weight)</text>
<path d="M148 547V544.6Q148 543.4 149.2 543.4H172Q173.2 543.4 173.2 544.6V547" stroke="#111" stroke-width="1.6" fill="none"/>
<path d="M160.7 553.5V551.1Q160.7 549.9 161.9 549.9H172Q173.2 549.9 173.2 551.1V553.5" stroke="#111" stroke-width="1.6" fill="none"/>
<text x="162.5" y="544.25" font-size="11" font-weight="bold" text-anchor="middle" fill="#111">*</text>
<path d="M184.1 476.1V473.7Q184.1 472.5 185.3 472.5H207.8Q209 472.5 209 473.7V476.1" stroke="#111" stroke-width="1.6" fill="none"/>
<path d="M196.8 482.7V480.3Q196.8 479.1 198 479.1H207.8Q209 479.1 209 480.3V482.7" stroke="#111" stroke-width="1.6" fill="none"/>
<text x="197.5" y="473.35" font-size="11" font-weight="bold" text-anchor="middle" fill="#111">***</text>
<text transform="translate(64.52 593.4) rotate(-45)" font-size="10.4" text-anchor="end" fill="#111">PBS</text>
<text transform="translate(76.77 593.4) rotate(-45)" font-size="10.4" text-anchor="end" fill="#111">LNP-Luc</text>
<text transform="translate(89.02 593.4) rotate(-45)" font-size="10.4" text-anchor="end" fill="#111">LNP-Tmprss6</text>
<text transform="translate(101.27 593.4) rotate(-45)" font-size="10.4" text-anchor="end" fill="#111">PBS</text>
<text transform="translate(113.52 593.4) rotate(-45)" font-size="10.4" text-anchor="end" fill="#111">LNP-Luc</text>
<text transform="translate(125.77 593.4) rotate(-45)" font-size="10.4" text-anchor="end" fill="#111">LNP-Tmprss6</text>
<text transform="translate(150.28 593.4) rotate(-45)" font-size="10.4" text-anchor="end" fill="#111">PBS</text>
<text transform="translate(162.53 593.4) rotate(-45)" font-size="10.4" text-anchor="end" fill="#111">LNP-Luc</text>
<text transform="translate(174.78 593.4) rotate(-45)" font-size="10.4" text-anchor="end" fill="#111">LNP-Tmprss6</text>
<text transform="translate(187.03 593.4) rotate(-45)" font-size="10.4" text-anchor="end" fill="#111">PBS</text>
<text transform="translate(199.28 593.4) rotate(-45)" font-size="10.4" text-anchor="end" fill="#111">LNP-Luc</text>
<text transform="translate(211.53 593.4) rotate(-45)" font-size="10.4" text-anchor="end" fill="#111">LNP-Tmprss6</text>
<path d="M40 642.5H120" stroke="#000" stroke-width="2"/>
<text x="80.5" y="654.2" font-size="11.5" text-anchor="middle" fill="#222">Two Week</text>
<path d="M133 642.5H212.7" stroke="#000" stroke-width="2"/>
<text x="173.5" y="654.2" font-size="11.5" text-anchor="middle" fill="#222">Six Week</text>
<rect x="216.55" y="480.05" width="11.6" height="6.6" fill="#c2c2c2" stroke="#111" stroke-width="1.5"/>
<rect x="216.55" y="492.25" width="11.6" height="6.6" fill="url(#chk)" stroke="#111" stroke-width="1.5"/>
<text x="232.5" y="486.4" font-size="8.7" fill="#222">WT</text>
<text x="232.5" y="498.6" font-size="8.7" fill="#222">Hfe<tspan font-size="6" dy="-3.8">-/-</tspan></text>
<text x="257" y="463" font-size="17.5" font-weight="bold" fill="#000" style="stroke:#000;stroke-width:0.5px">F</text>
<rect x="313.97" y="563.26" width="7.1" height="17.94" fill="#c2c2c2" stroke="#1a1a1a" stroke-width="1.7"/>
<path d="M317.51 560.32V564.5M315.76 560.32H319.26M315.76 564.5H319.26" stroke="#111" stroke-width="1.1" fill="none"/>
<rect x="326" y="558.25" width="7.1" height="22.95" fill="#c2c2c2" stroke="#1a1a1a" stroke-width="1.7"/>
<path d="M329.55 553.22V561.57M327.8 553.22H331.3M327.8 561.57H331.3" stroke="#111" stroke-width="1.1" fill="none"/>
<rect x="338.03" y="559.08" width="7.1" height="22.12" fill="#c2c2c2" stroke="#1a1a1a" stroke-width="1.7"/>
<path d="M341.57 554.06V562.41M339.82 554.06H343.32M339.82 562.41H343.32" stroke="#111" stroke-width="1.1" fill="none"/>
<rect x="350.06" y="563.88" width="7.1" height="17.32" fill="url(#chk)" stroke="#1a1a1a" stroke-width="1.7"/>
<path d="M353.61 559.9V566.17M351.86 559.9H355.36M351.86 566.17H355.36" stroke="#111" stroke-width="1.1" fill="none"/>
<rect x="362.09" y="565.97" width="7.1" height="15.23" fill="url(#chk)" stroke="#1a1a1a" stroke-width="1.7"/>
<path d="M365.63 563.03V567.21M363.88 563.03H367.38M363.88 567.21H367.38" stroke="#111" stroke-width="1.1" fill="none"/>
<rect x="374.12" y="547.6" width="7.1" height="33.6" fill="url(#chk)" stroke="#1a1a1a" stroke-width="1.7"/>
<path d="M377.66 544.66V548.84M375.91 544.66H379.41M375.91 548.84H379.41" stroke="#111" stroke-width="1.1" fill="none"/>
<rect x="398.18" y="533.82" width="7.1" height="47.38" fill="#c2c2c2" stroke="#1a1a1a" stroke-width="1.7"/>
<path d="M401.73 528.79V537.14M399.98 528.79H403.48M399.98 537.14H403.48" stroke="#111" stroke-width="1.1" fill="none"/>
<rect x="410.21" y="521.92" width="7.1" height="59.28" fill="#c2c2c2" stroke="#1a1a1a" stroke-width="1.7"/>
<path d="M413.75 514.8V527.33M412 514.8H415.5M412 527.33H415.5" stroke="#111" stroke-width="1.1" fill="none"/>
<rect x="422.24" y="492.68" width="7.1" height="88.52" fill="#c2c2c2" stroke="#1a1a1a" stroke-width="1.7"/>
<path d="M425.78 486.61V497.05M424.03 486.61H427.53M424.03 497.05H427.53" stroke="#111" stroke-width="1.1" fill="none"/>
<rect x="434.27" y="538.62" width="7.1" height="42.58" fill="url(#chk)" stroke="#1a1a1a" stroke-width="1.7"/>
<path d="M437.81 534.64V540.9M436.06 534.64H439.56M436.06 540.9H439.56" stroke="#111" stroke-width="1.1" fill="none"/>
<rect x="446.3" y="534.86" width="7.1" height="46.34" fill="url(#chk)" stroke="#1a1a1a" stroke-width="1.7"/>
<path d="M449.85 528.79V539.23M448.1 528.79H451.6M448.1 539.23H451.6" stroke="#111" stroke-width="1.1" fill="none"/>
<rect x="458.33" y="503.33" width="7.1" height="77.87" fill="url(#chk)" stroke="#1a1a1a" stroke-width="1.7"/>
<path d="M461.88 491.62V513.34M460.12 491.62H463.62M460.12 513.34H463.62" stroke="#111" stroke-width="1.1" fill="none"/>
<path d="M311.5 476.4V581.8" stroke="#111" stroke-width="1.3" fill="none"/>
<path d="M308 581.2H468" stroke="#111" stroke-width="1.5" fill="none"/>
<path d="M308 581.2H311.5" stroke="#111" stroke-width="1.2"/>
<text x="306.3" y="585.15" font-size="11.5" text-anchor="end" fill="#222">0</text>
<path d="M308 560.32H311.5" stroke="#111" stroke-width="1.2"/>
<text x="306.3" y="564.27" font-size="11.5" text-anchor="end" fill="#222">10</text>
<path d="M308 539.44H311.5" stroke="#111" stroke-width="1.2"/>
<text x="306.3" y="543.39" font-size="11.5" text-anchor="end" fill="#222">20</text>
<path d="M308 518.56H311.5" stroke="#111" stroke-width="1.2"/>
<text x="306.3" y="522.51" font-size="11.5" text-anchor="end" fill="#222">30</text>
<path d="M308 497.68H311.5" stroke="#111" stroke-width="1.2"/>
<text x="306.3" y="501.63" font-size="11.5" text-anchor="end" fill="#222">40</text>
<path d="M308 476.8H311.5" stroke="#111" stroke-width="1.2"/>
<text x="306.3" y="480.75" font-size="11.5" text-anchor="end" fill="#222">50</text>
<text transform="translate(287.3 526.7) rotate(-90)" font-size="11.4" text-anchor="middle" fill="#222">Total Spleen Iron (g)</text>
<path d="M353.6 535.4V533Q353.6 531.8 354.8 531.8H377.2Q378.4 531.8 378.4 533V535.4" stroke="#111" stroke-width="1.6" fill="none"/>
<path d="M366.2 541.6V539.2Q366.2 538 367.4 538H377.2Q378.4 538 378.4 539.2V541.6" stroke="#111" stroke-width="1.6" fill="none"/>
<text x="367.7" y="532.65" font-size="11" font-weight="bold" text-anchor="middle" fill="#111">***</text>
<path d="M402.9 477.7V475.3Q402.9 474.1 404.1 474.1H426.3Q427.5 474.1 427.5 475.3V477.7" stroke="#111" stroke-width="1.6" fill="none"/>
<path d="M415 483.7V481.3Q415 480.1 416.2 480.1H426.3Q427.5 480.1 427.5 481.3V483.7" stroke="#111" stroke-width="1.6" fill="none"/>
<text x="415.3" y="474.95" font-size="11" font-weight="bold" text-anchor="middle" fill="#111">**</text>
<path d="M437.2 477.7V475.3Q437.2 474.1 438.4 474.1H460.9Q462.1 474.1 462.1 475.3V477.7" stroke="#111" stroke-width="1.6" fill="none"/>
<path d="M450 483.7V481.3Q450 480.1 451.2 480.1H460.9Q462.1 480.1 462.1 481.3V483.7" stroke="#111" stroke-width="1.6" fill="none"/>
<text x="450.4" y="474.95" font-size="11" font-weight="bold" text-anchor="middle" fill="#111">*</text>
<text transform="translate(320.12 594.3) rotate(-45)" font-size="10" text-anchor="end" fill="#111">PBS</text>
<text transform="translate(332.15 594.3) rotate(-45)" font-size="10" text-anchor="end" fill="#111">LNP-Luc</text>
<text transform="translate(344.18 594.3) rotate(-45)" font-size="10" text-anchor="end" fill="#111">LNP-Tmprss6</text>
<text transform="translate(356.21 594.3) rotate(-45)" font-size="10" text-anchor="end" fill="#111">PBS</text>
<text transform="translate(368.24 594.3) rotate(-45)" font-size="10" text-anchor="end" fill="#111">LNP-Luc</text>
<text transform="translate(380.26 594.3) rotate(-45)" font-size="10" text-anchor="end" fill="#111">LNP-Tmprss6</text>
<text transform="translate(404.33 594.3) rotate(-45)" font-size="10" text-anchor="end" fill="#111">PBS</text>
<text transform="translate(416.36 594.3) rotate(-45)" font-size="10" text-anchor="end" fill="#111">LNP-Luc</text>
<text transform="translate(428.38 594.3) rotate(-45)" font-size="10" text-anchor="end" fill="#111">LNP-Tmprss6</text>
<text transform="translate(440.42 594.3) rotate(-45)" font-size="10" text-anchor="end" fill="#111">PBS</text>
<text transform="translate(452.45 594.3) rotate(-45)" font-size="10" text-anchor="end" fill="#111">LNP-Luc</text>
<text transform="translate(464.48 594.3) rotate(-45)" font-size="10" text-anchor="end" fill="#111">LNP-Tmprss6</text>
<path d="M301.2 641.9H380.8" stroke="#000" stroke-width="2"/>
<text x="341.45" y="653.5" font-size="11.5" text-anchor="middle" fill="#222">Two Week</text>
<path d="M394.6 641.9H473.8" stroke="#000" stroke-width="2"/>
<text x="435" y="653.5" font-size="11.5" text-anchor="middle" fill="#222">Six Week</text>
<rect x="478.85" y="480.15" width="11.6" height="6.6" fill="#c2c2c2" stroke="#111" stroke-width="1.5"/>
<rect x="478.85" y="492.35" width="11.6" height="6.6" fill="url(#chk)" stroke="#111" stroke-width="1.5"/>
<text x="496.3" y="486.5" font-size="8.7" fill="#222">WT</text>
<text x="496.3" y="498.7" font-size="8.7" fill="#222">Hfe<tspan font-size="6" dy="-3.8">-/-</tspan></text>
<circle cx="468.6" cy="124.7" r="0.7" fill="#666"/>
</svg>
</body></html>
